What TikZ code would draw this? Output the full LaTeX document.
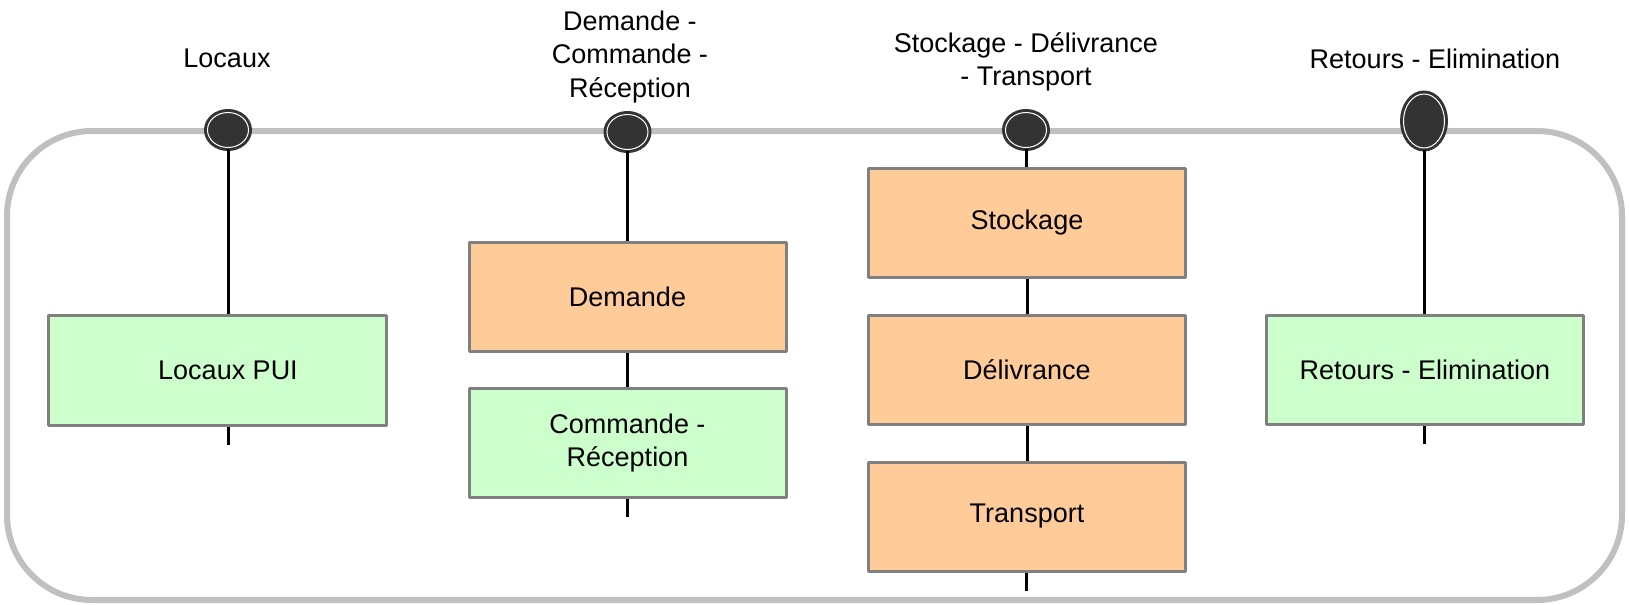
\documentclass[tikz,border=0pt]{standalone}
\usepackage{fontspec}
\setmainfont{Liberation Sans}
\usetikzlibrary{shapes.geometric}
\definecolor{vertpale}{HTML}{CCFFCC}
\definecolor{orangepale}{HTML}{FFCC99}
\definecolor{grisbord}{HTML}{808080}
\definecolor{griscadre}{HTML}{C0C0C0}
\definecolor{noirpastille}{HTML}{333333}
\begin{document}
\begin{tikzpicture}[x=0.5pt, y=-0.5pt, font=\fontsize{13.5}{16.75}\selectfont, line join=round,
	boite/.style={draw=grisbord, line width=1.5pt, minimum width=158.5pt, minimum height=54.5pt, inner sep=0pt, align=center},
	vertbox/.style={boite, fill=vertpale},
	orangebox/.style={boite, fill=orangepale},
	pastille/.style={ellipse, draw=noirpastille, fill=noirpastille, line width=1.5pt, double=white, double distance=0.5pt, inner sep=0pt, minimum width=20.5pt, minimum height=17.5pt},
	lien/.style={line width=1.5pt}]
	\useasboundingbox (0,0) rectangle (1629,605);
	\draw[griscadre, line width=3pt, rounded corners=42.5pt] (7,131) rectangle (1622,600);
	\node[pastille] (pLocaux) at (228,130) {};
	\node[pastille] (pDemande) at (627.5,132) {};
	\node[pastille] (pStock) at (1026,130) {};
	\node[pastille, minimum height=27pt] (pRetours) at (1424,121) {};
	\node (tLocaux) at (227,58) {Locaux};
	\node[align=center] (tDemande) at (630,57) {Demande -\\Commande -\\Réception};
	\node[align=center] (tStock) at (1026,62) {Stockage - Délivrance\\- Transport};
	\node (tRetours) at (1435,59) {Retours - Elimination};
	\node[vertbox, minimum width=169pt, minimum height=55pt] (bLocaux) at (217.5,370) {\hspace*{10.5pt}Locaux PUI};
	\node[orangebox] (bDemande) at (627.5,296.5) {Demande};
	\node[vertbox] (bCommande) at (627.5,443) {Commande -\\Réception};
	\node[orangebox] (bStockage) at (1027,223) {Stockage};
	\node[orangebox] (bDelivrance) at (1027,370) {Délivrance};
	\node[orangebox] (bTransport) at (1027,516.5) {Transport};
	\node[vertbox] (bRetours) at (1425,370) {Retours - Elimination};
	\foreach \p/\b in {pLocaux/bLocaux,pDemande/bDemande,pStock/bStockage,pRetours/bRetours}
	\draw[lien] (\p.south) -- (\p |- \b.north);
	\draw[lien] (bDemande.south) -- (bCommande.north);
	\draw[lien] (bStockage.south) -- (bDelivrance.north) (bDelivrance.south) -- (bTransport.north);
	\foreach \p/\b in {pLocaux/bLocaux,pDemande/bCommande,pStock/bTransport,pRetours/bRetours}
	\draw[lien] (\p |- \b.south) -- ++(0,18);
\end{tikzpicture}
\end{document}
